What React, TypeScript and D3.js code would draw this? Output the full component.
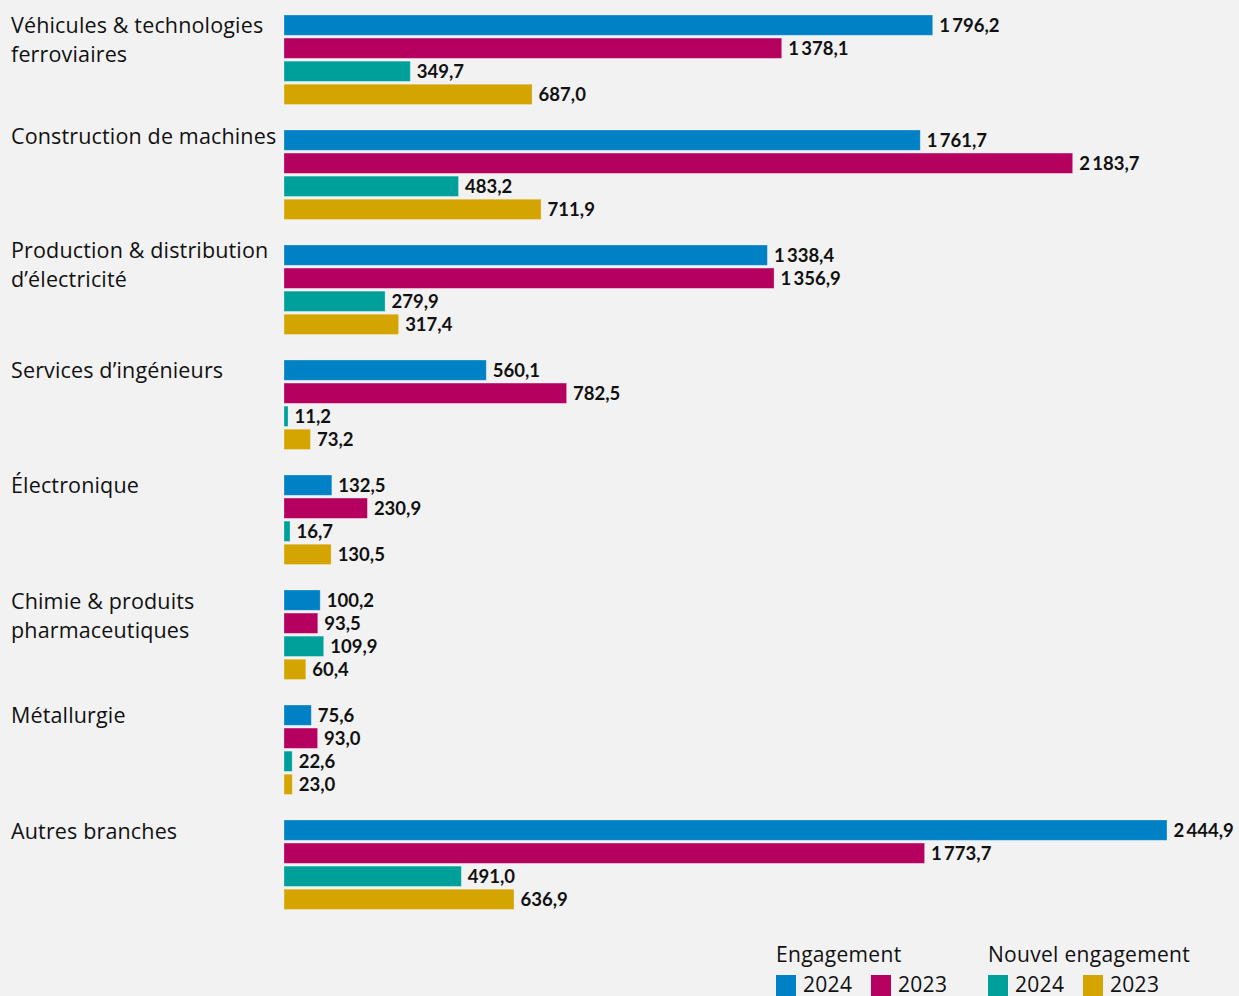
import React from "react";
import * as d3 from "d3";

const categories = [
  ["Véhicules & technologies", "ferroviaires"],
  ["Construction de machines"],
  ["Production & distribution", "d’électricité"],
  ["Services d’ingénieurs"],
  ["Électronique"],
  ["Chimie & produits", "pharmaceutiques"],
  ["Métallurgie"],
  ["Autres branches"],
];
const engagement2024 = [1796.2, 1761.7, 1338.4, 560.1, 132.5, 100.2, 75.6, 2444.9];
const engagement2023 = [1378.1, 2183.7, 1356.9, 782.5, 230.9, 93.5, 93.0, 1773.7];
const nouvel2024 = [349.7, 483.2, 279.9, 11.2, 16.7, 109.9, 22.6, 491.0];
const nouvel2023 = [687.0, 711.9, 317.4, 73.2, 130.5, 60.4, 23.0, 636.9];
const seriesKeys = ["e2024", "e2023", "n2024", "n2023"];
const seriesValues = [engagement2024, engagement2023, nouvel2024, nouvel2023];
const colors = ["#0080c5", "#b5005f", "#00a09a", "#d4a500"];
const legendGroups = [
  { title: "Engagement", items: [{ label: "2024", c: 0 }, { label: "2023", c: 1 }] },
  { title: "Nouvel engagement", items: [{ label: "2024", c: 2 }, { label: "2023", c: 3 }] },
];
const labelOffsets = [18, 14, 13, 18, 18, 19, 18, 19];

const W = 1239;
const H = 996;
const FONT = "'Open Sans', Lato, sans-serif";
const BOLD = "Lato, 'Open Sans', sans-serif";

function fmt(v: number) {
  const s = v.toFixed(1).replace(".", ",");
  const [int, dec] = s.split(",");
  const intF = int.replace(/\B(?=(\d{3})+(?!\d))/g, "\u2009");
  return intF + "," + dec;
}

export default function App() {
  const x = d3.scaleLinear().domain([0, 2444.9]).range([284, 1167]);
  const idx = categories.map((_, i) => String(i));
  const y0 = d3.scaleBand().domain(idx).range([15, 15 + 115 * 8]).paddingInner(0);
  const y1 = d3.scaleBand().domain(seriesKeys).range([0, 89.5]).paddingInner(0.12).paddingOuter(0);

  return (
    <svg width={W} height={H} style={{ position: "absolute", left: 0, top: 0, background: "#f2f2f2" }}>
      <rect x={0} y={0} width={W} height={H} fill="#f2f2f2" />
      {categories.map((lines, i) => {
        const gy = y0(String(i))!;
        return (
          <g key={i}>
            <text x={11} y={gy + labelOffsets[i]} fontFamily={FONT} fontSize={21.5} letterSpacing={0.15} fill="#111">
              {lines.map((l, j) => (
                <tspan key={j} x={11} dy={j === 0 ? 0 : 28.5}>{l}</tspan>
              ))}
            </text>
            {seriesKeys.map((k, s) => {
              const v = seriesValues[s][i];
              const by = gy + y1(k)!;
              const bh = y1.bandwidth();
              return (
                <g key={k}>
                  <rect x={x(0)} y={by} width={x(v) - x(0)} height={bh} fill={colors[s]} stroke="rgba(255,255,255,0.35)" strokeWidth={0.8} />
                  <text x={x(v) + 6.5} y={by + bh / 2 + 7} fontFamily={BOLD} fontWeight={700} fontSize={18.5} fill="#111">
                    {fmt(v)}
                  </text>
                </g>
              );
            })}
          </g>
        );
      })}
      {legendGroups.map((g, gi) => {
        const lx = gi === 0 ? 776 : 988;
        return (
          <g key={gi}>
            <text x={lx} y={962} fontFamily={FONT} fontSize={21} letterSpacing={0.3} fill="#111">{g.title}</text>
            {g.items.map((it, ii) => {
              const ix = lx + ii * 95;
              return (
                <g key={ii}>
                  <rect x={ix} y={975} width={20} height={22} fill={colors[it.c]} />
                  <text x={ix + 27} y={992} fontFamily={FONT} fontSize={21} letterSpacing={0.3} fill="#111">{it.label}</text>
                </g>
              );
            })}
          </g>
        );
      })}
    </svg>
  );
}
